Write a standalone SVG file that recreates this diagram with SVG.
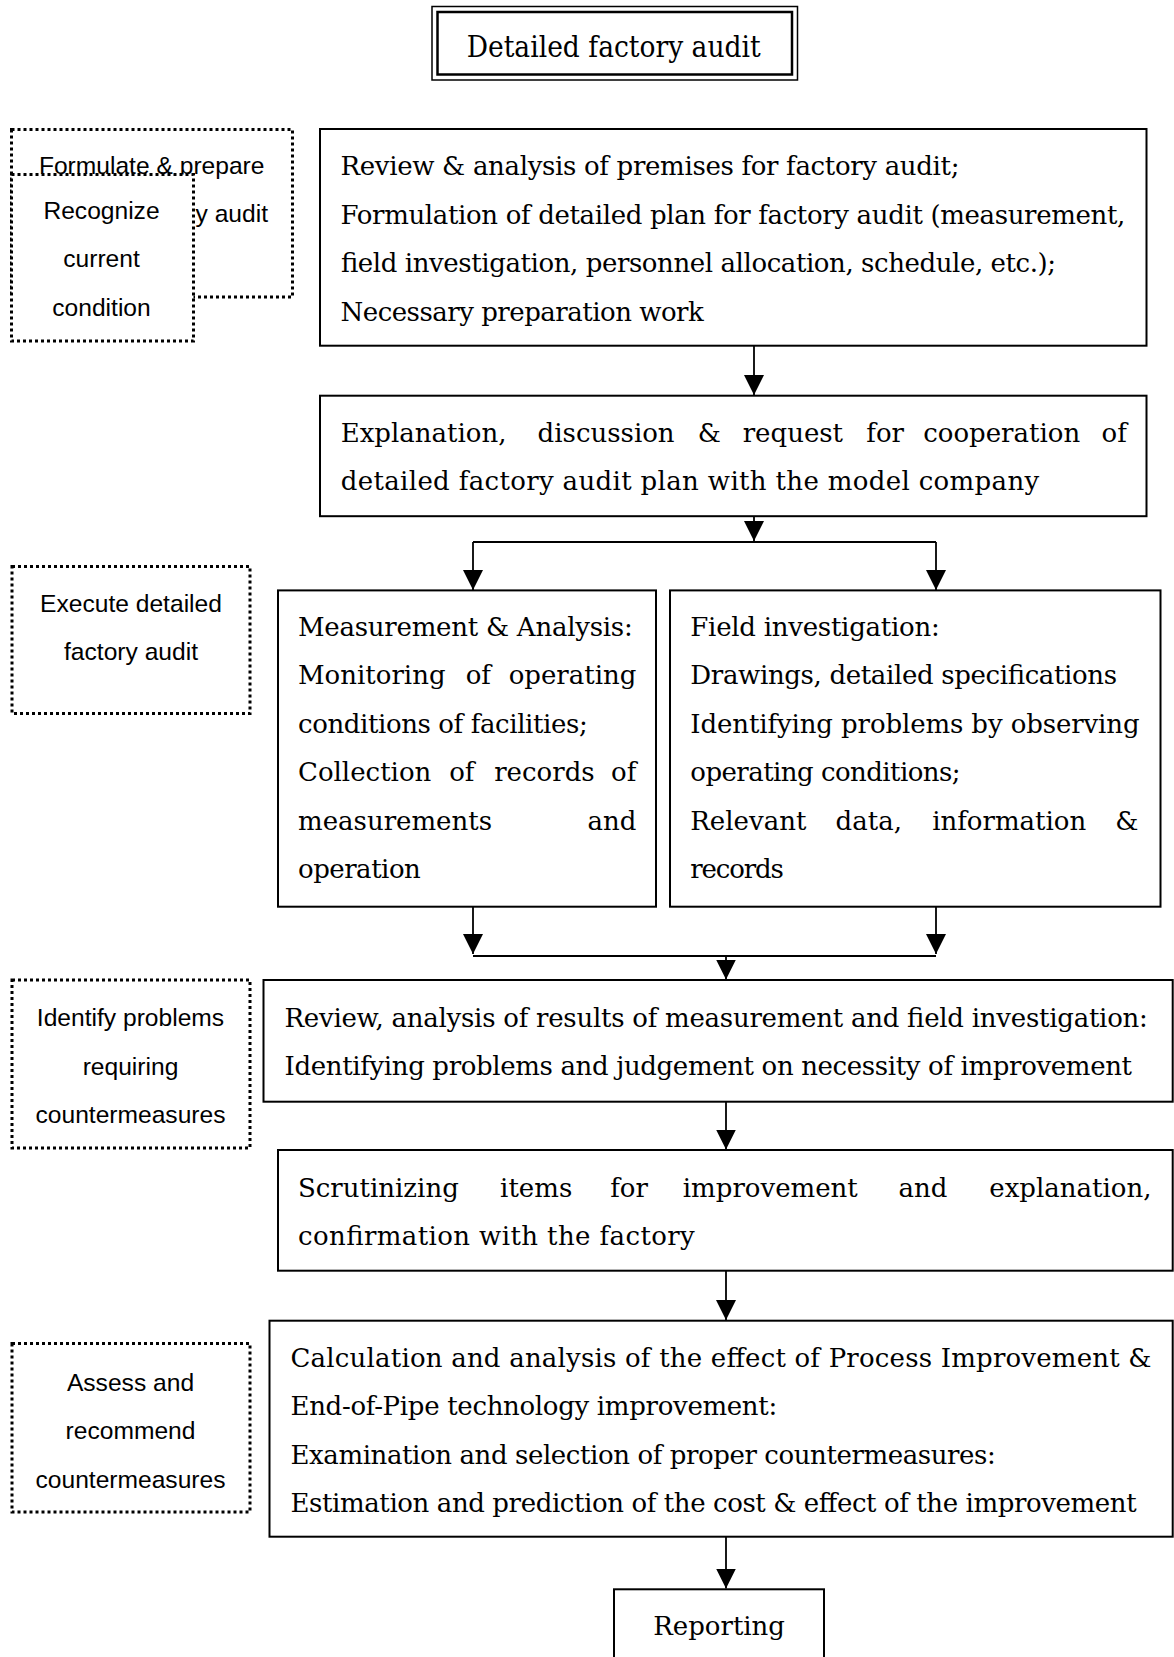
<svg xmlns="http://www.w3.org/2000/svg" width="1174" height="1657" viewBox="0 0 1174 1657">
<style>
.box{fill:#fff;stroke:#000;stroke-width:2}
.dot{fill:#fff;stroke:#000;stroke-width:3;stroke-dasharray:3 3}
.t{font-family:"DejaVu Serif","Liberation Serif",serif;font-size:26px;fill:#000}
.s{font-family:"Liberation Sans",Arial,sans-serif;font-size:24.6px;fill:#000;text-anchor:middle}
.e{text-anchor:end}
.c{fill:none;stroke:#000;stroke-width:1.8}
</style>
<defs>
<marker id="ah" viewBox="0 0 20 20" refX="20" refY="10" markerWidth="20" markerHeight="20" markerUnits="userSpaceOnUse" orient="auto">
<path d="M0,0 L20,10 L0,20 z" fill="#000"/>
</marker>
</defs>

<g id="title">
<rect x="432" y="6.5" width="365.5" height="73.5" fill="#fff" stroke="#000" stroke-width="1.5"/>
<rect x="437.5" y="12" width="354.5" height="62.5" fill="none" stroke="#000" stroke-width="2.5"/>
<text class="t" x="466.7" y="57" style="font-size:30px" textLength="294" lengthAdjust="spacingAndGlyphs">Detailed factory audit</text>
</g>

<g id="formulate">
<rect class="dot" x="11.5" y="129.5" width="281" height="167.5"/>
<text class="s" x="151.7" y="173.5">Formulate &amp; prepare</text>
<text class="s e" x="268" y="222">y audit</text>
</g>
<g id="recognize">
<rect class="dot" x="11.5" y="174.5" width="182" height="166.5"/>
<text class="s" x="101.5" y="218.5">Recognize</text>
<text class="s" x="101.5" y="267">current</text>
<text class="s" x="101.5" y="315.5">condition</text>
</g>

<g id="plan">
<rect class="box" x="320" y="129" width="826.5" height="216.7"/>
<text class="t" x="340.5" y="175" textLength="619" lengthAdjust="spacing">Review &amp; analysis of premises for factory audit;</text>
<text class="t" x="340.5" y="223.5" textLength="784.8" lengthAdjust="spacing">Formulation of detailed plan for factory audit (measurement,</text>
<text class="t" x="340.5" y="272" textLength="715.2" lengthAdjust="spacing">field investigation, personnel allocation, schedule, etc.);</text>
<text class="t" x="340.5" y="320.5" textLength="363.3" lengthAdjust="spacing">Necessary preparation work</text>
</g>

<g id="explain">
<rect class="box" x="320" y="395.7" width="826.5" height="120.5"/>
<text class="t" y="441.5"><tspan x="340.7">Explanation,</tspan><tspan x="537.6">discussion</tspan><tspan x="697.8">&amp;</tspan><tspan x="742.7">request</tspan><tspan x="866.3">for</tspan><tspan x="923.2">cooperation</tspan></text>
<text class="t e" x="1126.8" y="441.5">of</text>
<text class="t" x="340.7" y="489.5" textLength="698.5" lengthAdjust="spacing">detailed factory audit plan with the model company</text>
</g>

<g id="execute">
<rect class="dot" x="12" y="566.5" width="238" height="147"/>
<text class="s" x="131" y="611.5">Execute detailed</text>
<text class="s" x="131" y="659.5">factory audit</text>
</g>

<g id="measurement">
<rect class="box" x="278" y="590.4" width="378" height="316.3"/>
<text class="t" x="298" y="635.5" textLength="334.7" lengthAdjust="spacing">Measurement &amp; Analysis:</text>
<text class="t" y="684"><tspan x="298">Monitoring</tspan><tspan x="465.7">of</tspan></text>
<text class="t e" x="636.4" y="684">operating</text>
<text class="t" x="298" y="732.5" textLength="289.7" lengthAdjust="spacing">conditions of facilities;</text>
<text class="t" y="781"><tspan x="298">Collection</tspan><tspan x="449.2">of</tspan><tspan x="494.2">records</tspan></text>
<text class="t e" x="636.4" y="781">of</text>
<text class="t" x="298" y="829.5">measurements</text>
<text class="t e" x="636.4" y="829.5">and</text>
<text class="t" x="298" y="878" textLength="122.8" lengthAdjust="spacing">operation</text>
</g>

<g id="field">
<rect class="box" x="670" y="590.4" width="490.5" height="316.3"/>
<text class="t" x="690.3" y="635.5" textLength="249.4" lengthAdjust="spacing">Field investigation:</text>
<text class="t" x="690.3" y="684" textLength="426.8" lengthAdjust="spacing">Drawings, detailed specifications</text>
<text class="t" x="690.3" y="732.5" textLength="449.3" lengthAdjust="spacing">Identifying problems by observing</text>
<text class="t" x="690.3" y="781" textLength="270.3" lengthAdjust="spacing">operating conditions;</text>
<text class="t" y="829.5"><tspan x="690.3">Relevant</tspan><tspan x="835.6">data,</tspan><tspan x="932.2">information</tspan></text>
<text class="t e" x="1138.5" y="829.5">&amp;</text>
<text class="t" x="690.3" y="878" textLength="93.6" lengthAdjust="spacing">records</text>
</g>

<g id="identify">
<rect class="dot" x="12" y="980" width="238" height="168"/>
<text class="s" x="130.5" y="1026">Identify problems</text>
<text class="s" x="130.5" y="1074.5">requiring</text>
<text class="s" x="130.5" y="1123">countermeasures</text>
</g>

<g id="review">
<rect class="box" x="263.5" y="980" width="909.2" height="121.7"/>
<text class="t" x="284.5" y="1027" textLength="863.3" lengthAdjust="spacing">Review, analysis of results of measurement and field investigation:</text>
<text class="t" x="284.5" y="1074.5" textLength="847.5" lengthAdjust="spacing">Identifying problems and judgement on necessity of improvement</text>
</g>

<g id="scrutinize">
<rect class="box" x="278" y="1150" width="894.7" height="120.7"/>
<text class="t" y="1196.5"><tspan x="298">Scrutinizing</tspan><tspan x="500.1">items</tspan><tspan x="610.2">for</tspan><tspan x="682.8">improvement</tspan><tspan x="898.5">and</tspan></text>
<text class="t e" x="1151.5" y="1196.5">explanation,</text>
<text class="t" x="298" y="1245" textLength="396.8" lengthAdjust="spacing">confirmation with the factory</text>
</g>

<g id="assess">
<rect class="dot" x="12" y="1343.5" width="238" height="168.5"/>
<text class="s" x="130.5" y="1390.5">Assess and</text>
<text class="s" x="130.5" y="1439">recommend</text>
<text class="s" x="130.5" y="1488">countermeasures</text>
</g>

<g id="calculation">
<rect class="box" x="269.5" y="1320.7" width="903.2" height="216"/>
<text class="t" x="290.5" y="1366.5" textLength="861" lengthAdjust="spacing">Calculation and analysis of the effect of Process Improvement &amp;</text>
<text class="t" x="290.5" y="1415" textLength="486.7" lengthAdjust="spacing">End-of-Pipe technology improvement:</text>
<text class="t" x="290.5" y="1463.5" textLength="705.3" lengthAdjust="spacing">Examination and selection of proper countermeasures:</text>
<text class="t" x="290.5" y="1511.5" textLength="846.1" lengthAdjust="spacing">Estimation and prediction of the cost &amp; effect of the improvement</text>
</g>

<g id="reporting">
<rect class="box" x="614" y="1589.3" width="210" height="80"/>
<text class="t" x="653.3" y="1634.5" textLength="131.7" lengthAdjust="spacing">Reporting</text>
</g>

<g id="connectors">
<path class="c" d="M754 346 V395" marker-end="url(#ah)"/>
<path class="c" d="M754 516 V541" marker-end="url(#ah)"/>
<path class="c" d="M473 542 H936" stroke-width="2.2"/>
<path class="c" d="M473 542 V590" marker-end="url(#ah)"/>
<path class="c" d="M936 542 V590" marker-end="url(#ah)"/>
<path class="c" d="M473 907 V954" marker-end="url(#ah)"/>
<path class="c" d="M936 907 V954" marker-end="url(#ah)"/>
<path class="c" d="M473 956 H936" stroke-width="2.2"/>
<path class="c" d="M726 956 V979.5" marker-end="url(#ah)"/>
<path class="c" d="M726 1102 V1149.5" marker-end="url(#ah)"/>
<path class="c" d="M726 1271 V1320" marker-end="url(#ah)"/>
<path class="c" d="M726 1537 V1588.5" marker-end="url(#ah)"/>
</g>
</svg>
